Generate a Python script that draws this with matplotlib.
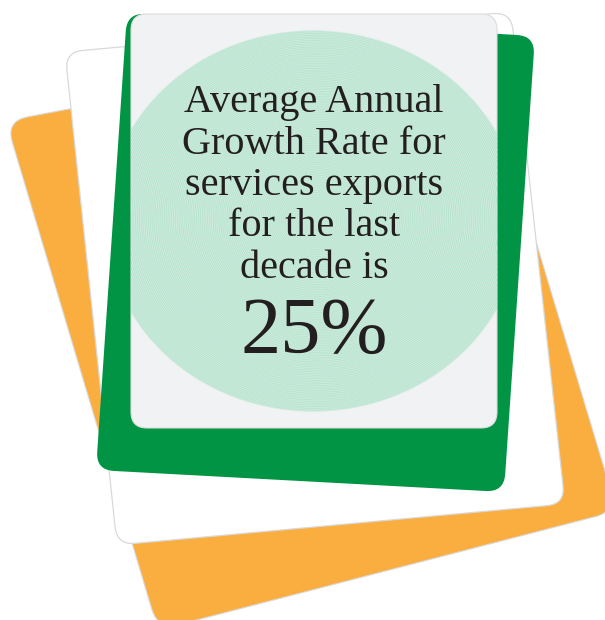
import matplotlib
matplotlib.use('Agg')
import matplotlib.pyplot as plt
import numpy as np
from matplotlib.path import Path
from matplotlib.patches import PathPatch
from matplotlib.colors import to_rgb

# card outlines in pixel space (x right, y down)
orangeCard 	= [(6, 121), (473, 32), (617, 511), (158, 630)]
whiteCard 	= [(65, 52), (511, 12), (565, 504), (117, 545)]
greenCard 	= [(127, 13), (535, 36), (504, 492), (96, 470)]
panelBox 	= [(131, 14), (497, 14), (497, 428), (131, 428)]

textLines 	= ['Average Annual', 'Growth Rate for', 'services exports', 'for the last', 'decade is']
headline 	= '25%'

colOrange 	= '#fbae40'
colGreen 	= '#009444'
colPanel 	= '#f1f2f4'
colText 	= '#231f20'
colRingDark	= '#a6dcc3'
colRingLight= '#e0f3ea'


def rounded(verts, r):
	# closed path with corners cut by quadratic curves
	v = np.array(verts, dtype=float)
	n = len(v)
	codes = []
	pts = []
	for i in range(n):
		p = v[i]
		a = v[i - 1]
		b = v[(i + 1) % n]
		da = (a - p) / np.linalg.norm(a - p)
		db = (b - p) / np.linalg.norm(b - p)
		pts.append(p + da * r); codes.append(Path.MOVETO if i == 0 else Path.LINETO)
		pts.append(p); codes.append(Path.CURVE3)
		pts.append(p + db * r); codes.append(Path.CURVE3)
	pts.append(pts[0]); codes.append(Path.CLOSEPOLY)
	return Path(pts, codes)


fig = plt.figure(figsize=(6.05, 6.20), dpi=100)
ax = fig.add_axes([0, 0, 1, 1])
ax.set_xlim(0, 605)
ax.set_ylim(620, 0)
ax.axis('off')

ax.add_patch(PathPatch(rounded(orangeCard, 22), facecolor=colOrange, edgecolor='#d9d9d9', lw=0.8))
ax.add_patch(PathPatch(rounded(whiteCard, 18), facecolor='white', edgecolor='#d9d9d9', lw=0.9))
ax.add_patch(PathPatch(rounded(greenCard, 18), facecolor=colGreen, edgecolor='none'))
panel = PathPatch(rounded(panelBox, 16), facecolor=colPanel, edgecolor='#dcdcdc', lw=0.8)
ax.add_patch(panel)

# guilloche disc as an image: two ring systems give the moire
cx, cy, rx, ry = 313, 221, 208, 191
x0, x1, y0, y1 = 131, 497, 14, 428
sc = 3
xx, yy = np.meshgrid(np.linspace(x0, x1, (x1 - x0) * sc), np.linspace(y0, y1, (y1 - y0) * sc))
r1 = np.hypot((xx - cx), (yy - cy) * rx / ry)
r2 = np.hypot((xx - cx - 7), (yy - cy + 5) * rx / ry)
ring = 0.5 + 0.25 * np.cos(2 * np.pi * r1 / 1.9) + 0.25 * np.cos(2 * np.pi * r2 / 1.8)
dark = np.array(to_rgb(colRingDark))
light = np.array(to_rgb(colRingLight))
rgb = light[None, None, :] * ring[..., None] + dark[None, None, :] * (1 - ring[..., None])
inside = ((xx - cx) / rx) ** 2 + ((yy - cy) / ry) ** 2
alpha = np.clip((1 - inside) * 120, 0, 1)
img = np.dstack([rgb, alpha])
im = ax.imshow(img, extent=(x0, x1, y1, y0), interpolation='bilinear', zorder=2)
im.set_clip_path(panel)

for i, t in enumerate(textLines):
	ax.text(314, 112 + i * 41.5, t, ha='center', va='baseline', fontsize=29,
			family='Liberation Serif', color=colText, zorder=3)
ax.text(314, 353, headline, ha='center', va='baseline', fontsize=58,
		family='Liberation Serif', color=colText, zorder=3)

ax.set_xlim(0, 605)
ax.set_ylim(620, 0)
fig.savefig('out.png', dpi=100)
